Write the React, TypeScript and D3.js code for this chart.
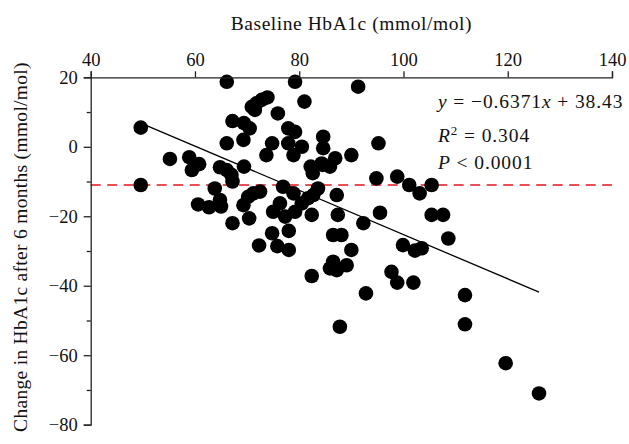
import { useEffect, useRef } from 'react'
import * as d3 from 'd3'

// baseline HbA1c (mmol/mol) for each patient
const baseline = [
    49.6, 49.6, 55.2, 58.9, 59.4, 60.8, 60.6, 62.7, 63.8, 64.8,
    65.0, 64.8, 66.1, 67.0, 67.2, 66.1, 66.1, 67.2, 67.2, 69.4,
    70.5, 69.3, 69.4, 69.3, 70.2, 70.4, 70.9, 71.8, 72.8, 73.9,
    71.5, 72.5, 72.3, 73.7, 74.8, 75.9, 74.8, 75.8, 78.0, 78.0,
    75.0, 76.3, 76.9, 77.3, 77.9, 79.2, 77.9, 78.9, 80.5, 79.2,
    81.0, 78.9, 79.2, 80.5, 81.7, 82.2, 82.6, 82.4, 82.7, 83.6,
    84.6, 84.6, 84.5, 85.9, 86.9, 87.2, 87.4, 86.5, 88.1, 86.5,
    89.1, 85.9, 87.2, 82.4, 92.8, 87.8, 91.3, 90.0, 95.2, 94.8,
    98.8, 101.1, 103.1, 105.4, 92.3, 95.5, 105.4, 107.6, 108.6, 99.9,
    102.2, 103.5, 90.0, 97.7, 98.8, 101.9, 111.8, 111.8, 119.6, 126.0,
    71.2, 84.3
]

// change after 6 months (mmol/mol), same order
const change = [
    5.5, -11.0, -3.5, -3.0, -6.7, -5.0, -16.6, -17.4, -12.0, -15.3,
    -17.2, -5.9, -6.7, -8.1, -10.0, 1.0, 18.7, 7.4, -22.0, 6.8,
    5.3, 2.0, -5.7, -16.8, -14.4, -20.6, 11.5, 12.5, 13.5, 14.2,
    10.6, -12.9, -28.4, -2.4, 1.0, 9.6, -24.9, -28.6, -29.7, -24.2,
    -18.7, -16.3, -11.5, -20.1, 5.3, 4.3, 1.0, -2.4, 0.0, 18.7,
    13.0, -13.4, -18.7, -16.3, -14.8, -5.7, -7.6, -19.6, -13.9, -12.0,
    2.9, -0.4, -5.2, -5.7, -3.3, -13.9, -19.6, -25.4, -25.4, -33.1,
    -34.1, -35.0, -35.5, -37.2, -42.2, -51.8, 17.3, -2.4, 1.0, -9.1,
    -8.6, -11.0, -13.4, -11.0, -22.0, -19.0, -19.6, -19.6, -26.4, -28.3,
    -29.9, -29.2, -29.7, -36.0, -39.1, -39.1, -42.7, -51.1, -62.3, -71.0,
    -13.4, -4.8
]

const xTicks = [40, 60, 80, 100, 120, 140]
const yTicks = [20, 0, -20, -40, -60, -80]
const yMinorTicks = [10, -10, -30, -50, -70]

const slope = -0.6371
const intercept = 38.43
const fitRange = [50.5, 126]
const referenceLevel = -11

const font = '"Liberation Serif", serif'
const minus = (v: number) => String(v).replace('-', '\u2212')

function App() {
    const ref = useRef<SVGSVGElement>(null)

    useEffect(() => {
        const width = 629
        const height = 444
        const margin = { top: 77.3, right: 17, bottom: 19.3, left: 90.7 }
        const innerW = width - margin.left - margin.right
        const innerH = height - margin.top - margin.bottom

        const x = d3.scaleLinear().domain([40, 140]).range([0, innerW])
        const y = d3.scaleLinear().domain([-80, 20]).range([innerH, 0])

        const svg = d3.select(ref.current)
        svg.selectAll('*').remove()

        const g = svg
            .append('g')
            .attr('transform', `translate(${margin.left}, ${margin.top})`)

        // red dashed reference line
        g.append('line')
            .attr('x1', 0)
            .attr('x2', innerW)
            .attr('y1', y(referenceLevel))
            .attr('y2', y(referenceLevel))
            .attr('stroke', '#e0141e')
            .attr('stroke-width', 1.3)
            .attr('stroke-dasharray', '10,6.5')

        // regression line
        const line = d3
            .line<number>()
            .x(d => x(d))
            .y(d => y(slope * d + intercept))
        g.append('path')
            .datum(fitRange)
            .attr('d', line)
            .attr('fill', 'none')
            .attr('stroke', 'black')
            .attr('stroke-width', 1.3)

        g.append('g')
            .selectAll('circle')
            .data(baseline)
            .join('circle')
            .attr('cx', d => x(d))
            .attr('cy', (_, i) => y(change[i]))
            .attr('r', 7.3)
            .attr('fill', 'black')

        const xAxis = g
            .append('g')
            .call(d3.axisTop(x).tickValues(xTicks).tickSize(6).tickPadding(5))
        const yAxis = g
            .append('g')
            .call(d3.axisLeft(y).tickValues(yTicks).tickFormat(d => minus(d as number)).tickSize(7).tickPadding(6))
        g.append('g')
            .call(d3.axisLeft(y).tickValues(yMinorTicks).tickFormat(() => '').tickSize(4))
            .call(a => a.select('.domain').remove())

        g.selectAll('.domain, .tick line')
            .attr('stroke', '#222')
            .attr('stroke-width', 1.3)
        for (const a of [xAxis, yAxis]) {
            a.selectAll('text')
                .attr('font-family', font)
                .attr('font-size', 18.5)
                .attr('fill', '#111')
        }

        svg.append('text')
            .attr('x', margin.left + innerW / 2)
            .attr('y', 30)
            .attr('text-anchor', 'middle')
            .attr('font-family', font)
            .attr('font-size', 19.5)
            .attr('letter-spacing', 0.55)
            .attr('fill', '#111')
            .text('Baseline HbA1c (mmol/mol)')

        svg.append('text')
            .attr('transform', `translate(27, 247) rotate(-90)`)
            .attr('text-anchor', 'middle')
            .attr('font-family', font)
            .attr('font-size', 19.5)
            .attr('letter-spacing', 0.3)
            .attr('fill', '#111')
            .text('Change in HbA1c after 6 months (mmol/mol)')

        // equation block
        const eq = svg.append('text')
            .attr('font-family', font)
            .attr('font-size', 19.5)
            .attr('letter-spacing', 0.9)
            .attr('fill', '#111')
        const l1 = eq.append('tspan').attr('x', 438).attr('y', 108)
        l1.append('tspan').attr('font-style', 'italic').text('y')
        l1.append('tspan').text(' = \u22120.6371')
        l1.append('tspan').attr('font-style', 'italic').text('x')
        l1.append('tspan').text(' + 38.43')
        const l2 = eq.append('tspan').attr('x', 438).attr('y', 142)
        l2.append('tspan').attr('font-style', 'italic').text('R')
        l2.append('tspan').attr('font-size', 13).attr('dy', -7).text('2')
        l2.append('tspan').attr('dy', 7).text(' = 0.304')
        const l3 = eq.append('tspan').attr('x', 438).attr('y', 169)
        l3.append('tspan').attr('font-style', 'italic').text('P')
        l3.append('tspan').text(' < 0.0001')
    })

    return (
        <svg
            ref={ref}
            width={629}
            height={444}
            style={{ position: 'absolute', left: 0, top: 0, background: 'white' }}
        />
    )
}

export default App
